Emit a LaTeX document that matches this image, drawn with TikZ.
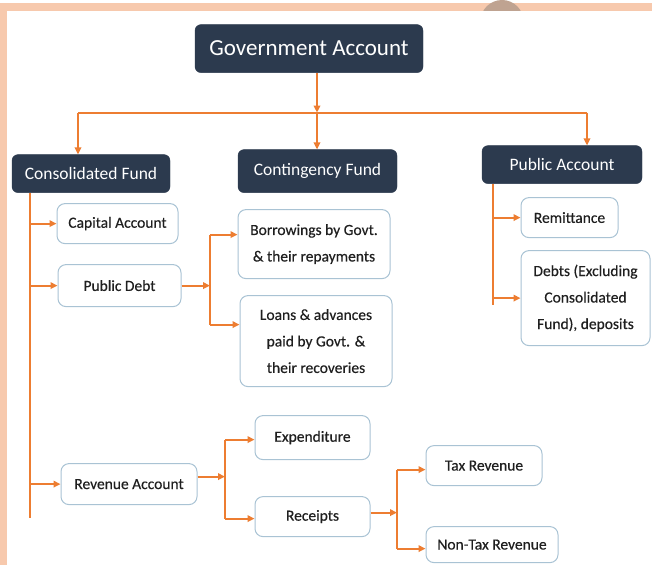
\documentclass[tikz,border=0pt]{standalone}
\usepackage{fontspec}
\setmainfont{Carlito}
\newfontfamily\leaffont{Carlito}[FakeBold=0.35]
\usetikzlibrary{arrows.meta}
\definecolor{peach}{HTML}{F7C9AD}
\definecolor{dot}{HTML}{BFA391}
\definecolor{navy}{HTML}{2C3A4E}
\definecolor{edge}{HTML}{ED7D31}
\definecolor{boxline}{HTML}{A9C3D4}
\tikzset{
  head/.style={draw=navy, fill=navy, text=white, rounded corners=6pt, inner sep=0pt, align=center},
  leaf/.style={draw=boxline, line width=1pt, fill=white, rounded corners=8pt, inner sep=0pt,
               align=center, text=black!88, font=\leaffont\fontsize{15.5}{26.5}\selectfont},
  ln/.style={draw=edge, line width=2pt},
  arr/.style={ln, -{Triangle[length=7pt,width=6.5pt]}},
}
\begin{document}
\begin{tikzpicture}[x=1pt,y=-1pt]
  % frame: peach band with a grey dot peeking out, white panel on top
  \fill[peach] (0,0) rectangle (652,562);
  \fill[dot] (502,19) circle (21.6);
  \fill[white] (7,8) rectangle (652,562);
  \useasboundingbox (0,0) rectangle (652,562);

  % headings
  \node[head, minimum width=228, minimum height=48, font=\fontsize{23}{27}\selectfont] (ga) at (309,46) {Government Account};
  \node[head, minimum width=158, minimum height=38, font=\fontsize{17.5}{21}\selectfont] (cf) at (91,171) {Consolidated Fund};
  \node[head, minimum width=159, minimum height=43, font=\fontsize{17.5}{21}\selectfont] (cont) at (317.5,168.5) {Contingency Fund};
  \node[head, minimum width=160, minimum height=38, font=\fontsize{17.5}{21}\selectfont] (pa) at (562,162) {Public Account};

  % leaves
  \node[leaf, minimum width=121, minimum height=40] (cap) at (117.5,221) {Capital Account};
  \node[leaf, minimum width=123, minimum height=42] (pd) at (119.5,283) {Public Debt};
  \node[leaf, minimum width=152, minimum height=69] (borr) at (314,241.5) {Borrowings by Govt.\\ \& their repayments};
  \node[leaf, minimum width=152, minimum height=91] (loan) at (316,338.5) {Loans \& advances\\ paid by Govt. \&\\ their recoveries};
  \node[leaf, minimum width=97, minimum height=40] (rem) at (569.5,215) {Remittance};
  \node[leaf, minimum width=129, minimum height=95] (debt) at (585.5,295.5) {Debts (Excluding\\ Consolidated\\ Fund), deposits};
  \node[leaf, minimum width=136, minimum height=41] (ra) at (129,481.5) {Revenue Account};
  \node[leaf, minimum width=115, minimum height=44] (exp) at (312.5,435) {Expenditure};
  \node[leaf, minimum width=115, minimum height=40] (rec) at (312.5,514) {Receipts};
  \node[leaf, minimum width=116, minimum height=40] (tax) at (484,463) {Tax Revenue};
  \node[leaf, minimum width=132, minimum height=36] (ntax) at (492,542) {Non-Tax Revenue};

  % top level split
  \coordinate (jm) at (317,110);
  \coordinate (jl) at (78,110);
  \coordinate (jr) at (587,110);
  \draw[arr] (jm |- ga.south) -- (jm);
  \draw[ln] (jl) -- (jr);
  \draw[arr] (jl) -- (jl |- cf.north);
  \draw[arr] (jm) -- (jm |- cont.north);
  \draw[arr] (jr) -- (jr |- pa.north);

  % consolidated fund branches
  \coordinate (cft) at (30,190);
  \coordinate (cfb) at (30,515);
  \draw[ln] (cft) -- (cfb);
  \draw[arr] (cft |- cap.west) -- (cap.west);
  \draw[arr] (cft |- pd.west) -- (pd.west);
  \draw[arr] (cft |- ra.west) -- (ra.west);

  % public debt branches
  \coordinate (pdj) at (210,283);
  \draw[arr] (pd.east) -- (pdj);
  \draw[ln] (210,232) -- (210,322);
  \draw[arr] (210,232) -- (borr.west |- 0,232);
  \draw[arr] (210,322) -- (loan.west |- 0,322);

  % public account branches
  \coordinate (pat) at (493,181);
  \coordinate (pab) at (493,302);
  \draw[ln] (pat) -- (pab);
  \draw[arr] (pat |- rem.west) -- (rem.west);
  \draw[arr] (pat |- debt.west) -- (debt.west);

  % revenue account branches
  \coordinate (raj) at (225,474);
  \draw[arr] (ra.east |- raj) -- (raj);
  \draw[ln] (225,437) -- (225,516);
  \draw[arr] (225,437) -- (exp.west |- 0,437);
  \draw[arr] (225,516) -- (rec.west |- 0,516);

  % receipts branches
  \coordinate (rcj) at (397,510);
  \draw[arr] (rec.east |- rcj) -- (rcj);
  \draw[ln] (397,467) -- (397,546);
  \draw[arr] (397,467) -- (tax.west |- 0,467);
  \draw[arr] (397,546) -- (ntax.west |- 0,546);
\end{tikzpicture}
\end{document}
